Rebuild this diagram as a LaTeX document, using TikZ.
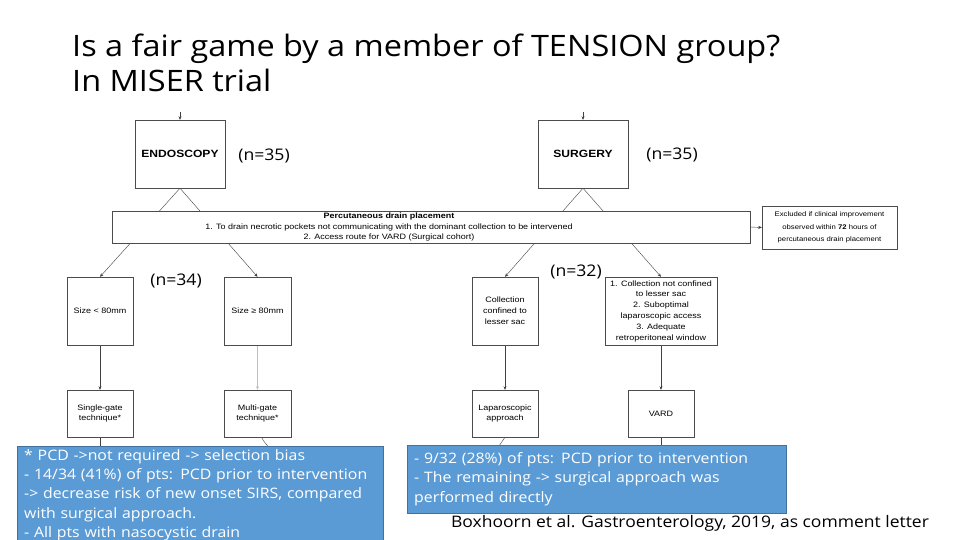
\documentclass[tikz,border=0pt]{standalone}
\usepackage{fontspec}
\setmainfont{Liberation Sans}
\newfontfamily\slidefont[FakeStretch=1.1]{Open Sans}
\newfontfamily\chartfont[FakeStretch=1.15]{Liberation Sans}
\usetikzlibrary{arrows.meta,positioning}
\pgfdeclarelayer{background}
\pgfsetlayers{background,main}
\definecolor{noteblue}{RGB}{91,155,213}
\definecolor{noteline}{RGB}{65,113,156}

\begin{document}
\begin{tikzpicture}[x=1pt,y=-1pt]

\tikzstyle{stepbox}=[rectangle,draw=black!70,fill=white,align=center,inner sep=1pt,font=\chartfont\fontsize{7.8}{10.8}\selectfont]
\tikzstyle{armbox}=[stepbox,minimum width=90pt,minimum height=68pt,font=\chartfont\bfseries\fontsize{10.5}{12}\selectfont]
\tikzstyle{flow}=[draw=black!75,thin,-{Stealth[length=3.5pt,width=3pt]}]
\tikzstyle{note}=[rectangle,draw=noteline,fill=noteblue,text=white,align=left,anchor=north west,inner xsep=7pt,inner ysep=3pt,font=\slidefont\fontsize{14.4}{19.3}\selectfont]
\tikzstyle{count}=[font=\slidefont\fontsize{16}{18}\selectfont]

\useasboundingbox (0,0) rectangle (960,540);

% title
\node (title) [anchor=north west,align=left,inner sep=0pt,font=\slidefont\fontsize{29.5}{35}\selectfont] at (72,34) {Is a fair game by a member of TENSION group?\\In MISER trial};

% arms
\node (endo) [armbox] at (180,154) {ENDOSCOPY};
\node (surg) [armbox] at (583,154) {SURGERY};
\node (n35a) [count] at (264,156) {(n=35)};
\node (n35b) [count] at (672,155) {(n=35)};

% percutaneous drainage
\node (perc) [stepbox,minimum width=638pt,minimum height=32pt] at (431,227) {};
\node (perctext) [align=center,inner sep=0pt,font=\chartfont\fontsize{7.8}{10.8}\selectfont] at (389,227) {\textbf{Percutaneous drain placement}\\1. To drain necrotic pockets not communicating with the dominant collection to be intervened\\2. Access route for VARD (Surgical cohort)};
\node (excl) [stepbox,minimum width=135pt,minimum height=43pt,font=\chartfont\fontsize{6.7}{12.5}\selectfont] at (829.5,227.5) {Excluded if clinical improvement\\observed within \textbf{72} hours of\\percutaneous drain placement};

% endoscopy branch
\node (small) [stepbox,minimum width=66pt,minimum height=68pt] at (100,311) {Size < 80mm};
\node (large) [stepbox,minimum width=67pt,minimum height=68pt] at (257.5,311) {Size ≥ 80mm};
\node (single) [stepbox,minimum width=66pt,minimum height=47pt] at (100,413.5) {Single-gate\\technique*};
\node (multi) [stepbox,minimum width=67pt,minimum height=47pt] at (257.5,413.5) {Multi-gate\\technique*};
\node (n34) [count] at (176,281) {(n=34)};

% surgery branch
\node (coll) [stepbox,minimum width=66pt,minimum height=68pt] at (505,311) {Collection\\confined to\\lesser sac};
\node (notconf) [stepbox,minimum width=112pt,minimum height=68pt] at (661,311) {1. Collection not confined\\to lesser sac\\2. Suboptimal\\laparoscopic access\\3. Adequate\\retroperitoneal window};
\node (lapa) [stepbox,minimum width=66pt,minimum height=47pt] at (505,413.5) {Laparoscopic\\approach};
\node (vard) [stepbox,minimum width=66pt,minimum height=47pt] at (661,413.5) {VARD};
\node (n32) [count] at (576,272) {(n=32)};

% notes
\node (endonote) [note,text width=352pt] at (17,446) {* PCD ->not required -> selection bias\\- 14/34 (41\%) of pts: PCD prior to intervention\\-> decrease risk of new onset SIRS, compared\\with surgical approach.\\- All pts with nasocystic drain};
\node (surgnote) [note,text width=365pt,minimum height=68pt] at (407,445) {- 9/32 (28\%) of pts: PCD prior to intervention\\- The remaining -> surgical approach was\\performed directly};
\node (cite) [font=\slidefont\fontsize{15.9}{18}\selectfont] at (690,523) {Boxhoorn et al. Gastroenterology, 2019, as comment letter};

\coordinate (endoin) at (180,112);
\coordinate (surgin) at (583,112);
\coordinate (singleout) at (100,447);
\coordinate (multiout) at (270,448);
\coordinate (lapaout) at (499,446);
\coordinate (vardout) at (661,446);

\begin{pgfonlayer}{background}
\draw[flow] (endoin) -- (endo.north);
\draw[flow] (surgin) -- (surg.north);
\draw[flow] (endo.south) -- (small.north);
\draw[flow] (endo.south) -- (large.north);
\draw[flow] (surg.south) -- (coll.north);
\draw[flow] (surg.south) -- (notconf.north);
\draw[flow] (small) -- (single);
\draw[flow,draw=black!25] (large) -- (multi);
\draw[flow] (coll) -- (lapa);
\draw[flow] (notconf) -- (vard);
\draw[draw=black!75] (single.south) -- (singleout);
\draw[draw=black!75] (multi.south) ++(4,0) to[bend right=10] (multiout);
\draw[draw=black!75] (lapa.south) -- (lapaout);
\draw[draw=black!75] (vard.south) -- (vardout);
\end{pgfonlayer}
\draw[flow] (perc.east) -- (excl.west);

\end{tikzpicture}
\end{document}
